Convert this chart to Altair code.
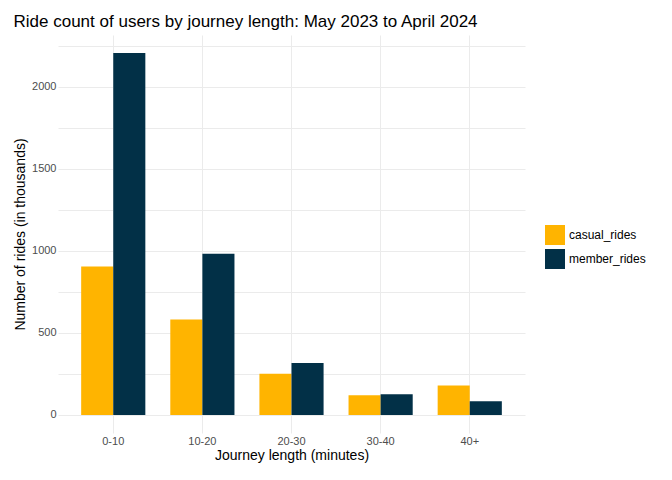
import altair as alt
import pandas as pd

lengths = ["0-10", "10-20", "20-30", "30-40", "40+"]
casual_rides = [904, 581, 251, 120, 180]
member_rides = [2204, 982, 317, 126, 84]

rows = []
for i, l in enumerate(lengths):
    rows.append({"length": l, "type": "casual_rides", "rides": casual_rides[i]})
    rows.append({"length": l, "type": "member_rides", "rides": member_rides[i]})
df = pd.DataFrame(rows)

chart = alt.Chart(df).mark_bar().encode(
    x=alt.X("length:N", title="Journey length (minutes)", sort=lengths,
            scale=alt.Scale(paddingInner=0.28, paddingOuter=0.26),
            axis=alt.Axis(labelAngle=0, ticks=False, domain=False, grid=True,
                          gridColor="#EBEBEB", labelColor="#4D4D4D", labelFontSize=11,
                          titleFontSize=14, titleFontWeight="normal", titlePadding=2)),
    xOffset=alt.XOffset("type:N"),
    y=alt.Y("rides:Q", title="Number of rides (in thousands)",
            scale=alt.Scale(domain=[-110, 2314], nice=False, zero=False),
            axis=alt.Axis(values=list(range(0, 2251, 250)), ticks=False, domain=False,
                          labelExpr="datum.value % 500 == 0 ? datum.label : ''",
                          gridColor="#EBEBEB", labelColor="#4D4D4D", labelFontSize=11,
                          titleFontSize=14, titleFontWeight="normal", format="d")),
    color=alt.Color("type:N", title=None,
                    scale=alt.Scale(domain=["casual_rides", "member_rides"],
                                    range=["#FFB400", "#023047"]),
                    legend=alt.Legend(symbolType="square", symbolSize=400,
                                      symbolStrokeWidth=0, labelFontSize=12,
                                      rowPadding=4, orient="none",
                                      legendX=487, legendY=190)),
).properties(
    width=467, height=398,
    title=alt.Title("Ride count of users by journey length: May 2023 to April 2024",
                    anchor="start", fontSize=17, fontWeight="normal", offset=4),
).configure(font="Liberation Sans").configure_view(stroke=None)

chart.save("out.html", embed_options={"renderer": "svg", "actions": False})
